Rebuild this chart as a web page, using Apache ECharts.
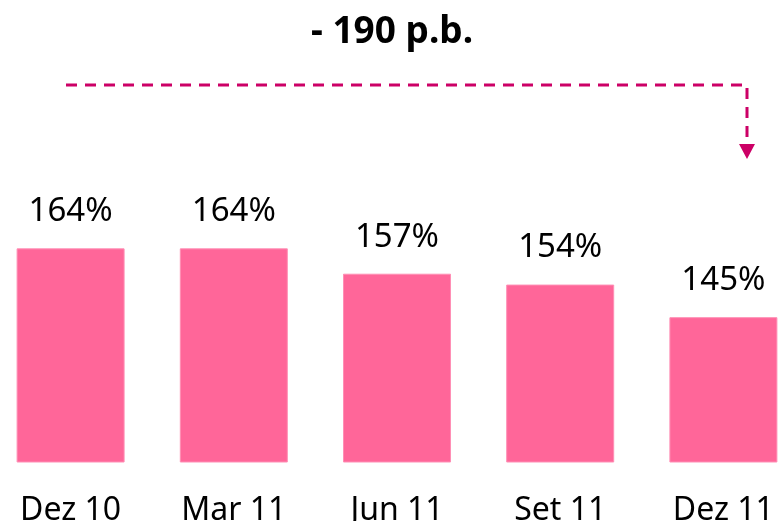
<!DOCTYPE html>
<html>
<head>
<meta charset="utf-8">
<script src="https://cdn.jsdelivr.net/npm/echarts@6/dist/echarts.min.js"></script>
<style>
    html, body { margin: 0; padding: 0; background: #fff; }
    #j_chart { width: 784px; height: 521px; }
</style>
</head>
<body>
<div id="j_chart"></div>
<script>
var categories = ['Dez 10', 'Mar 11', 'Jun 11', 'Set 11', 'Dez 11'];
var ratios = [164, 164, 157, 154, 145];
var headline = '- 190 p.b.';

var chart = echarts.init(document.getElementById('j_chart'));
var option = {
    animation: false,
    title: {
        text: headline,
        left: 'center',
        top: 9,
        textStyle: {
            fontFamily: 'Noto Sans',
            fontSize: 37,
            fontWeight: 'bold',
            color: '#000'
        }
    },
    grid: {
        left: -11,
        width: 816,
        top: 118,
        bottom: 59,
        containLabel: false,
        outerBoundsMode: 'none'
    },
    xAxis: {
        type: 'category',
        data: categories,
        axisLine: { show: false },
        axisTick: { show: false },
        axisLabel: {
            margin: 33,
            fontFamily: 'Noto Sans',
            fontSize: 32,
            color: '#000'
        }
    },
    yAxis: {
        type: 'value',
        min: 105,
        max: 200,
        show: false,
        splitLine: { show: false }
    },
    series: [
        {
            type: 'bar',
            data: ratios,
            barWidth: 108,
            itemStyle: {
                color: '#ff6699',
                borderColor: '#ff8fb5',
                borderWidth: 1
            },
            label: {
                show: true,
                position: 'top',
                distance: 20,
                formatter: '{c}%',
                fontFamily: 'Noto Sans',
                fontSize: 33,
                color: '#000'
            }
        }
    ],
    // dashed arrow over the bars
    graphic: [
        {
            type: 'polyline',
            shape: { points: [[66, 85], [747, 85], [747, 146]] },
            style: { stroke: '#cc0066', lineWidth: 3, lineDash: [11, 8], fill: null }
        },
        {
            type: 'polygon',
            shape: { points: [[739, 144], [755, 144], [747, 159]] },
            style: { fill: '#cc0066' }
        }
    ]
};
chart.setOption(option);
</script>
</body>
</html>
